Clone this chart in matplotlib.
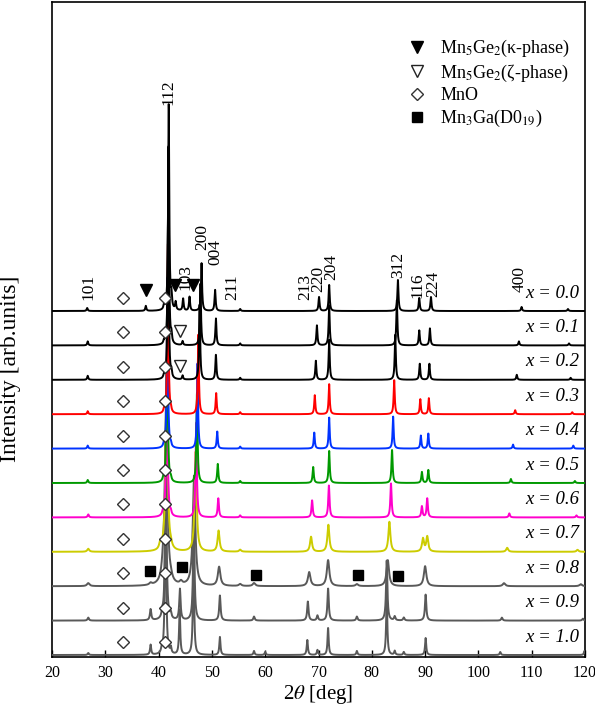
import numpy as np
import matplotlib
matplotlib.use('Agg')
import matplotlib.pyplot as plt
from matplotlib.lines import Line2D

plt.rcParams['font.family'] = ['Liberation Serif', 'DejaVu Serif']
plt.rcParams['mathtext.fontset'] = 'stix'

# ---------------- data ----------------
compositions = ['0.0', '0.1', '0.2', '0.3', '0.4', '0.5', '0.6', '0.7', '0.8', '0.9', '1.0']
line_colors = ['black', 'black', 'black', '#ff0000', '#0033ff', '#009900',
               '#ff00cc', '#cccc00', '#595959', '#595959', '#595959']
peak_hwhm = [0.12, 0.12, 0.12, 0.12, 0.12, 0.13, 0.14, 0.22, 0.28, 0.15, 0.13]

# reflections: 2theta position and peak height for each composition (x=0.0 ... 1.0)
pos_101 = [26.6, 26.7, 26.7, 26.7, 26.7, 26.7, 26.8, 26.8, 26.8, 26.8, 26.8]
amp_101 = [3, 4, 4, 3, 3, 3, 3, 3, 3, 3, 2]
pos_k37 = [37.6, 37.6, 37.6, 37.6, 37.6, 37.6, 37.6, 37.6, 37.6, 37.6, 37.6]
amp_k37 = [5, 0, 0, 0, 0, 0, 0, 0, 0, 0, 0]
pos_d38 = [38.5, 38.5, 38.5, 38.5, 38.5, 38.5, 38.5, 38.5, 38.5, 38.5, 38.5]
amp_d38 = [0, 0, 0, 0, 0, 0, 0, 0, 2, 11, 10]
pos_sh = [41.0, 41.0, 41.0, 41.0, 41.0, 40.9, 40.8, 40.3, 40.8, 40.7, 40.6]
amp_sh = [4, 3, 3, 3, 3, 3, 3, 6, 8, 5, 5]
pos_112 = [41.9, 41.85, 41.8, 41.75, 41.65, 41.6, 41.55, 41.5, 41.4, 41.35, 41.3]
amp_112 = [206, 200, 190, 171, 172, 175, 178, 180, 185, 190, 195]
pos_k42 = [42.4, 42.4, 42.4, 42.3, 42.3, 42.3, 42.3, 42.3, 42.3, 42.3, 42.3]
amp_k42 = [12, 8, 6, 3, 3, 3, 3, 3, 3, 5, 6]
pos_k43 = [43.2, 43.2, 43.2, 43.2, 43.2, 43.2, 43.2, 43.2, 43.2, 43.2, 43.2]
amp_k43 = [8, 0, 0, 0, 0, 0, 0, 0, 0, 0, 0]
pos_44 = [44.6, 44.5, 44.5, 44.4, 44.4, 44.3, 44.3, 44.2, 44.2, 44.0, 43.95]
amp_44 = [12, 4, 4, 0, 0, 0, 0, 0, 3, 31, 45]
pos_k46 = [45.8, 45.8, 45.8, 45.8, 45.8, 45.8, 45.8, 45.8, 45.8, 45.8, 45.8]
amp_k46 = [14, 0, 0, 0, 0, 0, 0, 0, 0, 0, 0]
pos_200 = [48.05, 47.85, 47.7, 47.45, 47.3, 47.2, 47.05, 46.95, 46.65, 46.6, 46.55]
amp_200 = [48, 62, 75, 80, 85, 90, 95, 100, 110, 110, 110]
pos_004 = [50.6, 50.75, 50.75, 50.8, 51.0, 51.1, 51.2, 51.25, 51.35, 51.5, 51.5]
amp_004 = [21, 27, 25, 21, 17, 19, 19, 21, 19, 25, 18]
pos_211 = [55.3, 55.3, 55.3, 55.3, 55.3, 55.3, 55.3, 55.3, 55.3, 55.3, 55.3]
amp_211 = [2, 2, 2, 2, 2, 2, 2, 2, 2, 0, 0]
pos_d58 = [57.9, 57.9, 57.9, 57.9, 57.9, 57.9, 57.9, 57.9, 57.9, 57.9, 57.9]
amp_d58 = [0, 0, 0, 0, 0, 0, 0, 0, 3, 4, 4]
pos_d60 = [60.0, 60.0, 60.0, 60.0, 60.0, 60.0, 60.0, 60.0, 60.0, 60.0, 60.0]
amp_d60 = [0, 0, 0, 0, 0, 0, 0, 0, 0, 0, 3]
pos_220 = [70.1, 69.7, 69.5, 69.3, 69.2, 69.0, 68.8, 68.6, 68.25, 68.0, 67.9]
amp_220 = [14, 20, 19, 19, 16, 16, 17, 15, 14, 19, 15]
pos_d70 = [69.8, 69.8, 69.8, 69.8, 69.8, 69.8, 69.8, 69.8, 69.8, 69.8, 69.8]
amp_d70 = [0, 0, 0, 0, 0, 0, 0, 0, 0, 5, 5]
pos_204 = [72.0, 72.0, 72.0, 72.0, 72.0, 72.0, 71.95, 71.85, 71.8, 71.8, 71.8]
amp_204 = [26, 40, 40, 30, 31, 32, 32, 27, 26, 32, 27]
pos_d77 = [77.2, 77.2, 77.2, 77.2, 77.2, 77.2, 77.2, 77.2, 77.2, 77.2, 77.2]
amp_d77 = [0, 0, 0, 0, 0, 0, 0, 0, 2, 4, 4]
pos_312 = [84.9, 84.7, 84.4, 84.2, 84.0, 83.8, 83.6, 83.3, 83.0, 82.8, 82.8]
amp_312 = [31, 45, 45, 34, 32, 33, 34, 30, 26, 60, 60]
pos_d84 = [84.3, 84.3, 84.3, 84.3, 84.3, 84.3, 84.3, 84.3, 84.3, 84.3, 84.3]
amp_d84 = [0, 0, 0, 0, 0, 0, 0, 0, 0, 4, 4]
pos_d86 = [86.0, 86.0, 86.0, 86.0, 86.0, 86.0, 86.0, 86.0, 86.0, 86.0, 86.0]
amp_d86 = [0, 0, 0, 0, 0, 0, 0, 0, 0, 3, 3]
pos_116 = [88.9, 88.9, 89.0, 89.1, 89.2, 89.4, 89.4, 89.6, 90.0, 90.1, 90.1]
amp_116 = [13, 15, 16, 15, 13, 11, 11, 13, 20, 26, 17]
pos_224 = [91.1, 90.9, 90.8, 90.7, 90.6, 90.6, 90.4, 90.4, 90.3, 90.3, 90.3]
amp_224 = [14, 17, 16, 16, 15, 13, 19, 15, 0, 0, 0]
pos_400 = [108.1, 107.6, 107.2, 106.9, 106.5, 106.1, 105.8, 105.4, 104.8, 104.4, 104.1]
amp_400 = [4, 4, 5, 4, 4, 4, 4, 4, 3, 3, 3]
pos_hi = [116.8, 117.0, 117.3, 117.6, 117.8, 118.1, 118.4, 118.6, 119.2, 119.6, 119.9]
amp_hi = [2, 2, 2, 2, 3, 2, 2, 2, 2, 2, 4]

reflection_positions = [pos_101, pos_k37, pos_d38, pos_sh, pos_112, pos_k42, pos_k43, pos_44,
                        pos_k46, pos_200, pos_004, pos_211, pos_d58, pos_d60, pos_220, pos_d70,
                        pos_204, pos_d77, pos_312, pos_d84, pos_d86, pos_116, pos_224, pos_400, pos_hi]
reflection_heights = [amp_101, amp_k37, amp_d38, amp_sh, amp_112, amp_k42, amp_k43, amp_44,
                      amp_k46, amp_200, amp_004, amp_211, amp_d58, amp_d60, amp_220, amp_d70,
                      amp_204, amp_d77, amp_312, amp_d84, amp_d86, amp_116, amp_224, amp_400, amp_hi]

# Miller index labels
hkl_text = ['101', '112', '103', '200', '004', '211', '213', '220', '204', '312', '116', '224', '400']
hkl_pos = [26.9, 41.9, 45.1, 48.1, 50.6, 53.8, 67.5, 69.9, 72.3, 84.9, 88.5, 91.5, 107.8]
hkl_y = [357, 552, 367, 407, 392, 357, 357, 365, 377, 379, 359, 360, 365]

# phase markers
mno_pos = [33.3, 41.2]
kappa_pos = [37.6, 43.1, 46.4]
kappa_y = [367, 372, 372]
zeta_pos = [44.1]
zeta_comp = [1, 2]
d019_pos = [38.4, 44.4, 58.3, 77.4, 85.0]
d019_rise = [15, 19, 11, 11, 10]

legend_labels = [r'Mn$_5$Ge$_2$(κ-phase)', r'Mn$_5$Ge$_2$(ζ-phase)', 'MnO', r'Mn$_3$Ga(D0$_{19}$)']

# ---------------- figure ----------------
fig = plt.figure(figsize=(5.95, 7.09), dpi=100)
ax = fig.add_axes([52 / 595, 52 / 709, 533 / 595, 655 / 709])

two_theta = np.arange(20.0, 120.001, 0.02)
step = 34.4
offsets = [2 + step * (len(compositions) - 1 - i) for i in range(len(compositions))]

for i in reversed(range(len(compositions))):
    y = np.zeros_like(two_theta)
    g = peak_hwhm[i]
    for p, a in zip(reflection_positions, reflection_heights):
        if a[i] > 0:
            y += a[i] / (1 + ((two_theta - p[i]) / g) ** 2)
    ax.plot(two_theta, y + offsets[i], color=line_colors[i], lw=1.4,
            zorder=2 + (len(compositions) - i))
    ax.text(118.9, offsets[i] + 18, f'x = {compositions[i]}', ha='right', va='center',
            fontsize=13.5, fontstyle='italic', zorder=30)
    ax.plot(mno_pos, [offsets[i] + 13] * len(mno_pos), ls='none', marker='D', ms=6,
            mfc='white', mec='#333333', mew=1.0, zorder=25)

ax.plot(kappa_pos, kappa_y, ls='none', marker='v', ms=8, color='black', zorder=26)
for c in zeta_comp:
    ax.plot(zeta_pos, [offsets[c] + 14] * len(zeta_pos), ls='none', marker='v', ms=9,
            mfc='white', mec='#222222', mew=1.0, zorder=26)
ax.plot(d019_pos, [offsets[8] + r for r in d019_rise], ls='none', marker='s', ms=6.5,
        color='black', zorder=26)

for t, p, yy in zip(hkl_text, hkl_pos, hkl_y):
    ax.text(p, yy, t, rotation=90, ha='center', va='bottom', fontsize=12.5, zorder=28)

handles = [Line2D([], [], ls='none', marker='v', ms=8, color='black'),
           Line2D([], [], ls='none', marker='v', ms=9, mfc='white', mec='#222222', mew=1.0),
           Line2D([], [], ls='none', marker='D', ms=6, mfc='white', mec='#333333', mew=1.0),
           Line2D([], [], ls='none', marker='s', ms=6.5, color='black')]
ax.legend(handles, legend_labels, loc='upper left', bbox_to_anchor=((408 - 52) / 533, 1 - 36 / 655),
          frameon=False, fontsize=13, handlelength=1.0, handletextpad=0.8,
          labelspacing=0.2, borderpad=0, borderaxespad=0)

ax.set_xlim(20, 120)
ax.set_ylim(0, 655)
ax.set_xticks(range(20, 121, 10))
ax.set_yticks([])
ax.tick_params(axis='x', direction='in', length=5, width=1, labelsize=11.5, pad=6)
for s in ax.spines.values():
    s.set_linewidth(1.2)
ax.set_xlabel(r'2$\theta$ [deg]', fontsize=15, labelpad=1)
ax.set_ylabel('Intensity [arb.units]', fontsize=17)
ax.yaxis.set_label_coords(-0.058, 0.44)

fig.savefig('out.png', dpi=100)
